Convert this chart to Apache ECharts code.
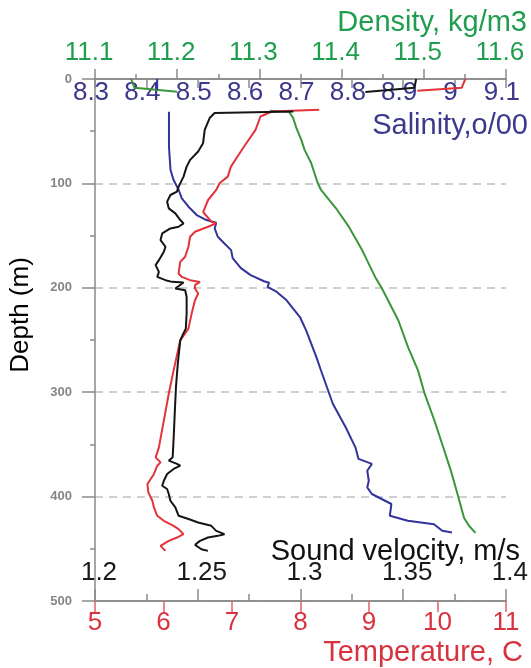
<!DOCTYPE html>
<html><head><meta charset="utf-8">
<script src="https://cdn.jsdelivr.net/npm/echarts@6/dist/echarts.min.js"></script>
<style>html,body{margin:0;padding:0;background:#fff}#c{width:531px;height:668px}</style>
</head><body><div id="c"></div>
<script>
// ---- tick labels ----
const depthTicks = [0, 100, 200, 300, 400, 500];
const densityTicks = [11.1, 11.2, 11.3, 11.4, 11.5, 11.6];
const salinityTicks = [8.3, 8.4, 8.5, 8.6, 8.7, 8.8, 8.9, 9, 9.1];
const soundTicks = [1.2, 1.25, 1.3, 1.35, 1.4];
const tempTicks = [5, 6, 7, 8, 9, 10, 11];

// ---- series (null = gap, hidden under labels in the original) ----
const densityValue = [11.144, 11.148, 11.200, null, 11.313, 11.336, 11.341, 11.345, 11.351, 11.355,
  11.363, 11.371, 11.375, 11.393, 11.409, 11.425, 11.441, 11.449, 11.469, 11.481,
  11.493, 11.501, 11.513, 11.525, 11.533, 11.541, 11.549, 11.555, 11.563];
const densityDepth = [0, 8.4, 12.2, null, 30.5, 31.4, 37.2, 46.8, 58.3, 67.9,
  80.4, 99.6, 106.3, 123.6, 141.7, 163.9, 189.8, 200.4, 231.1, 257.0,
  279.1, 301.2, 327.1, 355.9, 375.1, 397.2, 420.2, 427.9, 434.7];

const salinityValue = [8.421, 8.421, null, 8.444, 8.444, 8.447, 8.453, 8.463, 8.469, 8.482,
  8.498, 8.517, 8.536, 8.533, 8.539, 8.552, 8.565, 8.568, 8.584, 8.603,
  8.629, 8.639, 8.636, 8.654, 8.673, 8.699, 8.711, 8.731, 8.740, 8.763,
  8.788, 8.807, 8.813, 8.839, 8.830, 8.833, 8.830, 8.839, 8.877, 8.874,
  8.909, 8.960, 8.976, 8.995];
const salinityDepth = [0, 10.3, null, 31.4, 65.0, 87.2, 96.7, 106.3, 114.3, 122.3,
  130.3, 135.1, 137.7, 143.1, 151.1, 157.5, 163.9, 171.6, 181.2, 187.9,
  193.7, 195.1, 199.2, 204.0, 212.0, 228.0, 240.8, 266.4, 279.2, 311.1,
  333.6, 352.8, 363.9, 368.7, 375.2, 384.8, 391.2, 397.5, 407.1, 418.4,
  423.2, 426.4, 432.8, 434.4];

const soundValue = [1.3563, 1.3555, 1.3316, null, 1.2965, 1.2582, 1.2558, 1.2534, 1.2526, 1.2502,
  1.2463, 1.2446, 1.2431, 1.2407, 1.2399, 1.2367, 1.2351, 1.2359, 1.2391, 1.2415,
  1.2431, 1.2407, 1.2367, 1.2327, 1.2319, 1.2343, 1.2335, 1.2311, 1.2295, 1.2311,
  1.2303, 1.2343, 1.2375, 1.2431, 1.2391, 1.2439, 1.2446, 1.2446, 1.2442, 1.2426,
  1.2415, 1.2403, 1.2394, 1.2388, 1.2383, 1.2378, 1.2359, 1.2399, 1.2415, 1.2383,
  1.2351, 1.2335, 1.2327, 1.2351, 1.2359, 1.2367, 1.2391, 1.2407, 1.2455, 1.2502,
  1.2566, 1.2590, 1.2630, 1.2598, 1.2550, 1.2511, 1.2487, 1.2518, 1.2550];
const soundDepth = [0, 8.4, 12.5, null, 31.1, 32.6, 37.4, 48.7, 61.5, 69.5,
  77.5, 83.9, 93.5, 103.1, 107.9, 111.1, 117.5, 123.9, 128.7, 135.1,
  138.3, 141.5, 143.1, 147.9, 154.3, 160.7, 165.5, 173.5, 178.3, 184.7,
  189.6, 192.7, 194.3, 194.9, 200.7, 202.3, 208.8, 224.7, 239.1, 245.5,
  250.3, 272.7, 295.2, 320.7, 343.2, 362.4, 365.6, 368.7, 370.4, 373.5,
  378.3, 384.8, 389.6, 392.7, 397.5, 404.0, 410.4, 418.4, 421.5, 424.8,
  428.0, 432.8, 436.0, 437.6, 439.2, 442.4, 446.2, 450.4, 452.0];

const tempValue = [10.407, 10.354, 9.708, null, 8.273, 7.584, 7.416, 7.344, 7.177, 7.081,
  6.985, 6.938, 6.819, 6.770, 6.651, 6.579, 6.698, 6.770, 6.651, 6.460,
  6.388, 6.364, 6.316, 6.245, 6.220, 6.268, 6.388, 6.532, 6.460, 6.460,
  6.507, 6.460, 6.411, 6.364, 6.245, 6.148, 6.077, 6.005, 5.933, 5.886,
  5.957, 5.909, 5.861, 5.765, 5.779, 5.837, 5.861, 5.909, 6.005, 6.148,
  6.220, 6.292, 6.196, 6.077, 5.957, 6.029];
const tempDepth = [0, 8.4, 11.2, null, 29.5, 31.1, 35.9, 48.7, 64.7, 74.3,
  83.9, 93.5, 99.9, 106.3, 115.9, 127.4, 136.7, 138.3, 141.5, 146.3,
  151.1, 160.7, 170.3, 175.2, 186.3, 189.6, 192.7, 194.4, 197.5, 200.7,
  205.5, 211.9, 224.7, 239.1, 250.3, 279.1, 301.5, 327.2, 352.8, 362.4,
  367.2, 370.4, 378.3, 387.9, 396.0, 404.0, 410.4, 418.4, 423.2, 428.0,
  431.2, 436.0, 439.2, 442.4, 447.2, 452.0];

// ---- helpers ----
function pairs(vals, depths) { return vals.map((v, i) => [v, depths[i]]); }
function step(t) { return Math.round((t[1] - t[0]) * 1e6) / 1e6; }
function first(t) { return t[0]; }
function last(t) { return t[t.length - 1]; }

const GRAY = '#8a8a8a';
const FONT = '"Liberation Sans", Arial, sans-serif';
const TFONT = '"Liberation Sans Narrow", "Liberation Sans", Arial, sans-serif';
const TSIZE = 26;
const GREEN_T = '#1f9e50', NAVY_T = '#3c388c', RED_T = '#d8323e';
const GREEN_L = '#3a963a', BLUE_L = '#33339c', RED_L = '#e3343a', BLACK_L = '#151515';

function lineS(color) { return { color: color, width: 1.5 }; }

const chart = echarts.init(document.getElementById('c'), null, { renderer: 'canvas' });
const option = {
  animation: false,
  backgroundColor: '#fff',
  grid: { left: 95, right: 18, top: 79, bottom: 67, containLabel: false },
  xAxis: [
    { // Density (top, labels above)
      type: 'value', position: 'top', min: first(densityTicks), max: last(densityTicks), interval: step(densityTicks),
      axisLine: { show: true, lineStyle: lineS(GRAY) },
      axisTick: { show: true, length: 10, lineStyle: lineS(GRAY) },
      minorTick: { show: true, splitNumber: 2, length: 5, lineStyle: lineS(GRAY) },
      axisLabel: { color: GREEN_T, fontSize: TSIZE, fontFamily: TFONT, margin: 13, padding: [0, 12, 0, 0], showMinLabel: true, showMaxLabel: true },
      splitLine: { show: false }
    },
    { // Salinity (top, labels inside)
      type: 'value', position: 'top', min: first(salinityTicks), max: last(salinityTicks), interval: step(salinityTicks),
      axisLine: { show: true, lineStyle: lineS(GRAY) },
      axisTick: { show: true, inside: true, length: 9, lineStyle: lineS(GRAY) },
      axisLabel: { inside: true, color: NAVY_T, fontSize: TSIZE, fontFamily: TFONT, margin: 1, padding: [0, 8, 0, 0], showMinLabel: true, showMaxLabel: true },
      splitLine: { show: false }
    },
    { // Temperature (bottom, labels below)
      type: 'value', position: 'bottom', min: first(tempTicks), max: last(tempTicks), interval: step(tempTicks),
      axisLine: { show: true, lineStyle: lineS(GRAY) },
      axisTick: { show: true, length: 11, lineStyle: lineS('#e0606a') },
      axisLabel: { color: RED_T, fontSize: TSIZE, fontFamily: TFONT, margin: 9, showMinLabel: true, showMaxLabel: true },
      splitLine: { show: false }
    },
    { // Sound velocity (bottom, labels inside)
      type: 'value', position: 'bottom', min: first(soundTicks), max: last(soundTicks), interval: step(soundTicks),
      axisLine: { show: true, lineStyle: lineS(GRAY) },
      axisTick: { show: true, inside: true, length: 12, lineStyle: lineS(GRAY) },
      minorTick: { show: true, splitNumber: 2, length: 7, lineStyle: lineS(GRAY) },
      axisLabel: { inside: true, color: '#1a1a1a', fontSize: TSIZE, fontFamily: TFONT, margin: 15, padding: [0, 0, 0, 8], showMinLabel: true, showMaxLabel: true },
      splitLine: { show: false }
    }
  ],
  yAxis: {
    type: 'value', inverse: true, min: first(depthTicks), max: last(depthTicks), interval: step(depthTicks),
    axisLine: { show: true, lineStyle: lineS(GRAY) },
    axisTick: { show: true, length: 13, lineStyle: lineS(GRAY) },
    minorTick: { show: true, splitNumber: 2, length: 5, lineStyle: lineS(GRAY) },
    axisLabel: { color: '#858585', fontSize: 13, fontWeight: 'bold', fontFamily: FONT, margin: 23 },
    splitLine: { show: true, lineStyle: { color: '#c0c0c0', width: 1.5, type: [8, 6] } }
  },
  series: [
    { name: 'Density', type: 'line', xAxisIndex: 0, yAxisIndex: 0, data: pairs(densityValue, densityDepth),
      symbol: 'none', connectNulls: false, lineStyle: { color: GREEN_L, width: 2 }, itemStyle: { color: GREEN_L } },
    { name: 'Salinity', type: 'line', xAxisIndex: 1, yAxisIndex: 0, data: pairs(salinityValue, salinityDepth),
      symbol: 'none', connectNulls: false, lineStyle: { color: BLUE_L, width: 2 }, itemStyle: { color: BLUE_L } },
    { name: 'Temperature', type: 'line', xAxisIndex: 2, yAxisIndex: 0, data: pairs(tempValue, tempDepth),
      symbol: 'none', connectNulls: false, lineStyle: { color: RED_L, width: 2 }, itemStyle: { color: RED_L } },
    { name: 'Sound velocity', type: 'line', xAxisIndex: 3, yAxisIndex: 0, data: pairs(soundValue, soundDepth),
      symbol: 'none', connectNulls: false, lineStyle: { color: BLACK_L, width: 2 }, itemStyle: { color: BLACK_L } }
  ],
  graphic: [
    { type: 'text', x: 527, y: 23, style: { text: 'Density, kg/m3', fill: GREEN_T, font: '29px ' + FONT, textAlign: 'right', textVerticalAlign: 'middle' } },
    { type: 'text', x: 528, y: 126, style: { text: 'Salinity,o/00', fill: NAVY_T, font: '29px ' + FONT, textAlign: 'right', textVerticalAlign: 'middle' } },
    { type: 'text', x: 520, y: 552, style: { text: 'Sound velocity, m/s', fill: '#111', font: '29px ' + FONT, textAlign: 'right', textVerticalAlign: 'middle' } },
    { type: 'text', x: 523, y: 653, style: { text: 'Temperature, C', fill: RED_T, font: '29px ' + FONT, textAlign: 'right', textVerticalAlign: 'middle' } },
    { type: 'text', x: 21, y: 315, rotation: Math.PI / 2, style: { text: 'Depth (m)', fill: '#000', font: '26px ' + FONT, textAlign: 'center', textVerticalAlign: 'middle' } }
  ]
};
chart.setOption(option);
</script>
</body></html>
